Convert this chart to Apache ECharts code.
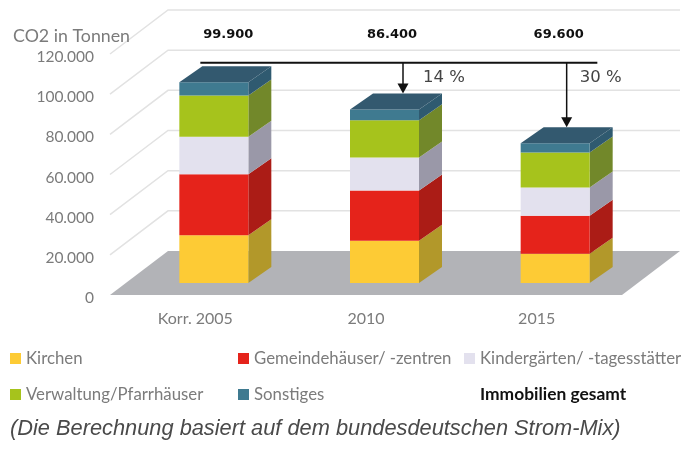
<!DOCTYPE html>
<html>
<head>
<meta charset="utf-8">
<style>html,body{margin:0;background:#fff}#main{width:698px;height:453px}</style>
<script src="https://cdn.jsdelivr.net/npm/echarts@6/dist/echarts.min.js"></script>
</head>
<body>
<div id="main"></div>
<script>
const categories = ["Korr. 2005", "2010", "2015"];
const yTicks = [0, 20000, 40000, 60000, 80000, 100000, 120000];
const kirchen = [23800, 21000, 14600];
const gemeinde = [30300, 25000, 18900];
const kinder = [18700, 16500, 14000];
const verwaltung = [20600, 18500, 17500];
const sonstiges = [6500, 5400, 4600];
const totals = [99900, 86400, 69600];
const percents = [null, "14 %", "30 %"];

const grey = "#7b7b7b";
const font = "Lato";

// [name, values, front, side, top]
const stack = [
  ["Kirchen", kirchen, "#fdcb35", "#b2982a"],
  ["Gemeindehäuser/ -zentren", gemeinde, "#e5231b", "#ab1c16"],
  ["Kindergärten/ -tagesstätter", kinder, "#e3e1ee", "#9a98a8"],
  ["Verwaltung/Pfarrhäuser", verwaltung, "#a6c31c", "#72882a"],
  ["Sonstiges", sonstiges, "#3f7a90", "#2f5a70", "#33596f"]
];

// fake 3d: wall depth, bar position inside the depth, bar size
const wallDx = 58, wallDy = -44;
const barDx = 18.5, barDy = -12, barW = 69, sideDx = 23, sideDy = -16;
const totalOffset = [33, 26, 22];
const arrowOffset = [0, 37, 30];
const percentOffset = [0, 20, 13];

function fmt(v) {
  return String(v).replace(/\B(?=(\d{3})+$)/g, ".");
}

function poly(points, fill, stroke) {
  return {
    type: "polygon",
    shape: { points: points },
    style: { fill: fill, stroke: stroke || null, lineWidth: stroke ? 0.5 : 0 }
  };
}

function wallItem(params, api) {
  const r = params.coordSys;
  const y = api.coord([0, api.value(1)])[1];
  const children = [];
  if (api.value(1) === 0) {
    children.push(poly([
      [r.x, y],
      [r.x + wallDx, y + wallDy],
      [r.x + r.width + wallDx, y + wallDy],
      [r.x + r.width, y]
    ], "#b2b3b7"));
  } else {
    children.push({
      type: "polyline",
      shape: { points: [[r.x, y], [r.x + wallDx, y + wallDy], [r.x + r.width + wallDx, y + wallDy]] },
      style: { fill: null, stroke: "#e2e2e2", lineWidth: 1.5 }
    });
  }
  return { type: "group", children: children };
}

function segmentItem(idx) {
  return function (params, api) {
    const c = api.value(0);
    let start = 0;
    for (let i = 0; i < idx; i++) start += stack[i][1][c];
    const a = api.coord([c, start]);
    const b = api.coord([c, start + api.value(1)]);
    const x0 = a[0] + barDx - barW / 2, x1 = x0 + barW;
    const y0 = a[1] + barDy, y1 = b[1] + barDy;
    const children = [
      poly([[x1, y0], [x1 + sideDx, y0 + sideDy], [x1 + sideDx, y1 + sideDy], [x1, y1]], stack[idx][3]),
      poly([[x0, y0], [x1, y0], [x1, y1], [x0, y1]], stack[idx][2])
    ];
    if (stack[idx][4]) {
      children.push(poly([[x0, y1], [x0 + sideDx, y1 + sideDy], [x1 + sideDx, y1 + sideDy], [x1, y1]], stack[idx][4]));
    }
    return { type: "group", children: children };
  };
}

function totalItem(params, api) {
  const c = api.value(0);
  const p = api.coord([c, 120000]);
  return {
    type: "text",
    style: {
      x: p[0] + totalOffset[c], y: p[1] - 19,
      text: fmt(api.value(1)),
      fill: "#111",
      font: "bold 13px 'DejaVu Sans'",
      align: "center", verticalAlign: "middle"
    }
  };
}

function arrowItem(params, api) {
  const c = api.value(0);
  const top = api.coord([0, totals[0]]);
  const lineY = top[1] + barDy + sideDy - 3.5;
  const children = [];
  if (c === 0) {
    children.push({
      type: "line",
      shape: { x1: top[0] + 5, y1: lineY, x2: top[0] + 402, y2: lineY },
      style: { stroke: "#111", lineWidth: 2 }
    });
    return { type: "group", children: children };
  }
  const p = api.coord([c, api.value(1)]);
  const x = p[0] + arrowOffset[c];
  const tip = p[1] + barDy + sideDy;
  children.push(
    { type: "line", shape: { x1: x, y1: lineY, x2: x, y2: tip - 8 }, style: { stroke: "#111", lineWidth: 1.5 } },
    poly([[x - 5.5, tip - 10], [x + 5.5, tip - 10], [x, tip]], "#111"),
    {
      type: "text",
      style: {
        x: x + percentOffset[c], y: 78,
        text: percents[c],
        fill: "#444",
        font: "16.5px 'DejaVu Sans'",
        align: "left", verticalAlign: "middle"
      }
    }
  );
  return { type: "group", children: children };
}

const series = [
  {
    name: "wall",
    type: "custom",
    renderItem: wallItem,
    data: yTicks.map(function (v) { return [0, v]; }),
    z: 1,
    silent: true
  }
];
stack.forEach(function (s, i) {
  series.push({
    name: s[0],
    type: "custom",
    renderItem: segmentItem(i),
    itemStyle: { color: s[2] },
    data: s[1].map(function (v, c) { return [c, v]; }),
    z: 2
  });
});
series.push({
  name: "Immobilien gesamt",
  type: "custom",
  renderItem: totalItem,
  itemStyle: { color: "transparent" },
  data: totals.map(function (v, c) { return [c, v]; }),
  z: 3
});
series.push({
  name: "arrows",
  type: "custom",
  renderItem: arrowItem,
  data: totals.map(function (v, c) { return [c, v]; }),
  z: 4,
  silent: true
});

const legendBase = {
  orient: "vertical",
  top: 350,
  padding: 0,
  itemGap: 19,
  itemWidth: 11,
  itemHeight: 11,
  icon: "rect",
  selectedMode: false,
  textStyle: { fontFamily: font, fontSize: 16.8, color: grey }
};

const options = {
  animation: false,
  title: [
    {
      text: "CO2 in Tonnen",
      left: 13, top: 27, padding: 0,
      textStyle: { fontFamily: font, fontSize: 17.8, fontWeight: "normal", color: grey }
    },
    {
      text: "(Die Berechnung basiert auf dem bundesdeutschen Strom-Mix)",
      left: 10, top: 418, padding: 0,
      textStyle: { fontFamily: "Liberation Sans", fontStyle: "italic", fontSize: 21.8, fontWeight: "normal", color: "#4a4a4a" }
    }
  ],
  legend: [
    Object.assign({}, legendBase, { left: 10, data: ["Kirchen", "Verwaltung/Pfarrhäuser"] }),
    Object.assign({}, legendBase, { left: 238, data: ["Gemeindehäuser/ -zentren", "Sonstiges"] }),
    Object.assign({}, legendBase, {
      left: 464,
      data: [
        "Kindergärten/ -tagesstätter",
        { name: "Immobilien gesamt", textStyle: { fontWeight: "bold", color: "#111", fontSize: 17.4 } }
      ]
    })
  ],
  grid: { left: 110, right: 76, top: 54, height: 241 },
  xAxis: {
    type: "category",
    data: categories,
    axisLine: { show: false },
    axisTick: { show: false },
    axisLabel: { margin: 16, fontFamily: font, fontSize: 16, color: grey }
  },
  yAxis: {
    type: "value",
    min: 0,
    max: 120000,
    interval: 20000,
    axisLine: { show: false },
    axisTick: { show: false },
    splitLine: { show: false },
    axisLabel: {
      margin: 16,
      fontFamily: font,
      fontSize: 15.5,
      color: grey,
      verticalAlign: "top",
      lineHeight: 6,
      formatter: fmt
    }
  },
  series: series
};

var myChart = echarts.init(document.querySelector("#main"));
myChart.setOption(options);
</script>
</body>
</html>
